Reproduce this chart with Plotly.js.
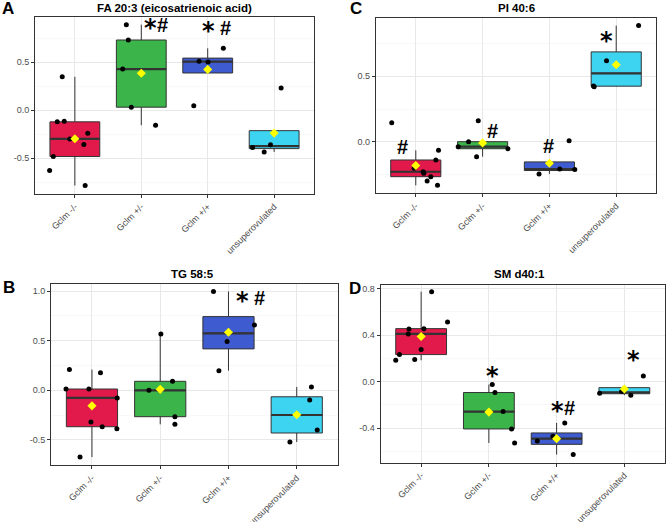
<!DOCTYPE html>
<html>
<head>
<meta charset="utf-8">
<script src="https://cdn.plot.ly/plotly-3.0.1.min.js"></script>
<style>
  body { margin: 0; background: #fff; }
  #chart { width: 666px; height: 522px; }
</style>
</head>
<body>
<div id="chart"></div>
<script>
const groups = ['Gclm -/-', 'Gclm +/-', 'Gclm +/+', 'unsuperovulated'];
const boxColors = ['#E2194B', '#3BB44A', '#3F5BD0', '#3DD4F2'];

// A: FA 20:3 (eicosatrienoic acid)
const faVals = [
  [0.348, -0.122, -0.115, -0.30, -0.24, -0.359, -0.484, -0.63, -0.787],
  [0.892, 0.732, 0.429, 0.031, -0.157],
  [0.509, 0.502, 0.645, 0.045],
  [-0.39, -0.436, -0.362, 0.23]
];
const faJitter = [
  [-0.19, -0.265, -0.16, -0.075, 0.195, 0.135, -0.325, -0.38, 0.155],
  [-0.225, -0.195, -0.28, -0.15, 0.215],
  [-0.13, 0.005, 0.235, -0.21],
  [-0.325, -0.15, -0.055, 0.105]
];

// B: TG 58:5
const tgVals = [
  [0.209, 0.013, 0.013, 0.178, -0.077, -0.32, -0.367, -0.387, -0.673],
  [0.0, 0.568, 0.091, -0.266, -0.343],
  [0.996, 0.659, 0.491, 0.198],
  [-0.521, -0.098, 0.034, -0.40]
];
const tgJitter = [
  [-0.33, -0.38, -0.045, 0.125, 0.37, -0.015, 0.15, 0.365, -0.175],
  [-0.165, 0.01, 0.18, 0.215, 0.215],
  [-0.22, 0.38, -0.02, -0.14],
  [-0.10, 0.19, 0.215, 0.30]
];

// C: PI 40:6
const piVals = [
  [0.145, -0.204, -0.23, -0.242, -0.301, -0.268, -0.14, -0.066, -0.334],
  [0.161, 0.0, -0.038, -0.115, -0.054],
  [-0.247, -0.209, -0.212, 0.008],
  [0.421, 0.426, 0.62, 0.888]
];
const piJitter = [
  [-0.36, -0.025, 0.11, 0.12, 0.17, 0.225, 0.30, 0.34, 0.325],
  [-0.065, -0.21, -0.365, -0.09, 0.38],
  [-0.155, 0.155, 0.38, 0.295],
  [-0.33, -0.34, -0.145, 0.335]
];

// D: SM d40:1
const smVals = [
  [0.183, 0.232, 0.452, 0.41, 0.189, 0.275, 0.455, 0.773, 0.513],
  [-0.026, -0.094, -0.258, -0.407, -0.527],
  [-0.51, -0.47, -0.355, -0.627],
  [-0.10, -0.086, -0.117, 0.049]
];
const smJitter = [
  [-0.375, -0.32, -0.18, -0.19, -0.095, 0.0, 0.04, 0.155, 0.39],
  [0.05, 0.09, 0.21, 0.335, 0.38],
  [-0.285, -0.055, 0.12, 0.245],
  [-0.365, -0.04, 0.095, 0.28]
];

const faTicks = [-0.5, 0, 0.5];
const tgTicks = [-0.5, 0, 0.5, 1.0];
const piTicks = [0, 0.5];
const smTicks = [-0.4, 0, 0.4, 0.8];

// significance marks: [group position, value, label]
const faMarks = [[1.235, 0.89, '*#'], [2.135, 0.857, '* #']];
const tgMarks = [[2.337, 0.935, '* #']];
const piMarks = [[-0.204, -0.038, '#'], [1.144, 0.082, '#'], [1.985, -0.03, '#'], [2.86, 0.79, '*']];
const smMarks = [[1.054, 0.077, '*'], [2.108, -0.223, '*#'], [3.128, 0.212, '*']];

function quantile(s, p) {
  const h = (s.length - 1) * p;
  const i = Math.floor(h);
  const next = i + 1 < s.length ? s[i + 1] : s[i];
  return s[i] + (h - i) * (next - s[i]);
}

function boxStats(vals) {
  const s = vals.slice().sort((a, b) => a - b);
  const q1 = quantile(s, 0.25), med = quantile(s, 0.5), q3 = quantile(s, 0.75);
  const iqr = q3 - q1;
  const lo = Math.min(q1, Math.min(...s.filter(v => v >= q1 - 1.5 * iqr)));
  const hi = Math.max(q3, Math.max(...s.filter(v => v <= q3 + 1.5 * iqr)));
  const mean = s.reduce((a, b) => a + b, 0) / s.length;
  return { q1, med, q3, lo, hi, mean };
}

const W = 666, H = 522;
const font = 'Liberation Sans, Arial, sans-serif';

const panels = [
  { vals: faVals, jit: faJitter, ticks: faTicks, marks: faMarks, ax: '', title: 'FA 20:3 (eicosatrienoic acid)', letter: 'A',
    px: [35, 314], py: [17, 194], yr: [-0.875, 0.972], tx: 174, ty: 7.5, lx: 8, ly: 8 },
  { vals: tgVals, jit: tgJitter, ticks: tgTicks, marks: tgMarks, ax: '2', title: 'TG 58:5', letter: 'B',
    px: [51, 337.7], py: [284, 465.3], yr: [-0.756, 1.072], tx: 192.5, ty: 273.5, lx: 8.7, ly: 287.5 },
  { vals: piVals, jit: piJitter, ticks: piTicks, marks: piMarks, ax: '3', title: 'PI 40:6', letter: 'C',
    px: [375.7, 656.3], py: [18.3, 193.3], yr: [-0.395, 0.944], tx: 516.7, ty: 7.8, lx: 356, ly: 8.5 },
  { vals: smVals, jit: smJitter, ticks: smTicks, marks: smMarks, ax: '4', title: 'SM d40:1', letter: 'D',
    px: [380.5, 665], py: [285, 462.7], yr: [-0.697, 0.83], tx: 519, ty: 273.8, lx: 354.7, ly: 288.3 }
];

const traces = [];
const annotations = [];
const layout = {
  width: W, height: H,
  margin: { l: 0, r: 0, t: 0, b: 0 },
  paper_bgcolor: '#fff', plot_bgcolor: '#fff',
  showlegend: false,
  font: { family: font, color: '#4d4d4d', size: 9 }
};

panels.forEach(p => {
  const xa = 'x' + p.ax, ya = 'y' + p.ax;
  const px = [], py = [], means = [];
  p.vals.forEach((vals, i) => {
    const st = boxStats(vals);
    means.push(st.mean);
    traces.push({
      type: 'box', x: [i], q1: [st.q1], median: [st.med], q3: [st.q3],
      lowerfence: [st.lo], upperfence: [st.hi],
      width: 0.75, whiskerwidth: 0, boxpoints: false,
      fillcolor: boxColors[i], line: { color: '#333', width: 1 },
      xaxis: xa, yaxis: ya, hoverinfo: 'skip'
    });
    traces.push({
      type: 'scatter', mode: 'lines', x: [i - 0.375, i + 0.375], y: [st.med, st.med],
      line: { color: '#333', width: 2.2 }, xaxis: xa, yaxis: ya, hoverinfo: 'skip'
    });
    vals.forEach((v, k) => { px.push(i + p.jit[i][k]); py.push(v); });
  });
  traces.push({
    type: 'scatter', mode: 'markers', x: px, y: py,
    marker: { color: '#000', size: 5 }, xaxis: xa, yaxis: ya, hoverinfo: 'skip'
  });
  traces.push({
    type: 'scatter', mode: 'markers', x: [0, 1, 2, 3], y: means,
    marker: { color: '#FFFF00', size: 7, symbol: 'diamond' }, xaxis: xa, yaxis: ya, hoverinfo: 'skip'
  });

  const minor = [];
  for (let k = 0; k <= p.ticks.length; k++) {
    const step = p.ticks[1] - p.ticks[0];
    minor.push(p.ticks[0] - step / 2 + k * step);
  }
  const common = {
    showline: true, mirror: true, linecolor: '#333', linewidth: 1,
    showgrid: true, gridcolor: '#e8e8e8', gridwidth: 1, zeroline: false,
    ticks: 'outside', ticklen: 3, tickcolor: '#333', tickwidth: 1,
    tickfont: { family: font, size: 9, color: '#4d4d4d' }, fixedrange: true
  };
  layout['xaxis' + p.ax] = Object.assign({}, common, {
    domain: [p.px[0] / W, p.px[1] / W], anchor: ya, range: [-0.6, 3.6],
    tickmode: 'array', tickvals: [0, 1, 2, 3], ticktext: groups, tickangle: -45
  });
  layout['yaxis' + p.ax] = Object.assign({}, common, {
    domain: [1 - p.py[1] / H, 1 - p.py[0] / H], anchor: xa, range: p.yr,
    tickmode: 'array', tickvals: p.ticks, ticktext: p.ticks.map(v => v.toFixed(1)),
    minor: { tickmode: 'array', tickvals: minor, showgrid: true, gridcolor: '#f3f3f3', gridwidth: 0.6, ticks: '' }
  });

  annotations.push({
    xref: 'paper', yref: 'paper', x: p.tx / W, y: 1 - p.ty / H, xanchor: 'center', yanchor: 'middle',
    text: p.title, showarrow: false, font: { family: font, size: 11.5, color: '#000', weight: 'bold' }
  });
  annotations.push({
    xref: 'paper', yref: 'paper', x: p.lx / W, y: 1 - p.ly / H, xanchor: 'center', yanchor: 'middle',
    text: p.letter, showarrow: false, font: { family: font, size: 17, color: '#000', weight: 'bold' }
  });

  // one annotation per glyph, so the star can use a bigger six-armed face
  p.marks.forEach(m => {
    const chars = m[2].replace(' ', '').split('');
    const gap = m[2].includes(' ') ? 17 : 12;
    chars.forEach((c, k) => {
      const star = c === '*';
      annotations.push({
        xref: xa, yref: ya, x: m[0], y: m[1], xanchor: 'center', yanchor: 'middle',
        xshift: (k - (chars.length - 1) / 2) * gap, yshift: star ? -3 : 0,
        text: c, showarrow: false,
        font: { family: star ? 'DejaVu Sans' : font, size: star ? 24 : 20, color: '#000', weight: 'bold' }
      });
    });
  });
});

layout.annotations = annotations;

Plotly.newPlot('chart', traces, layout, { staticPlot: true });
</script>
</body>
</html>
